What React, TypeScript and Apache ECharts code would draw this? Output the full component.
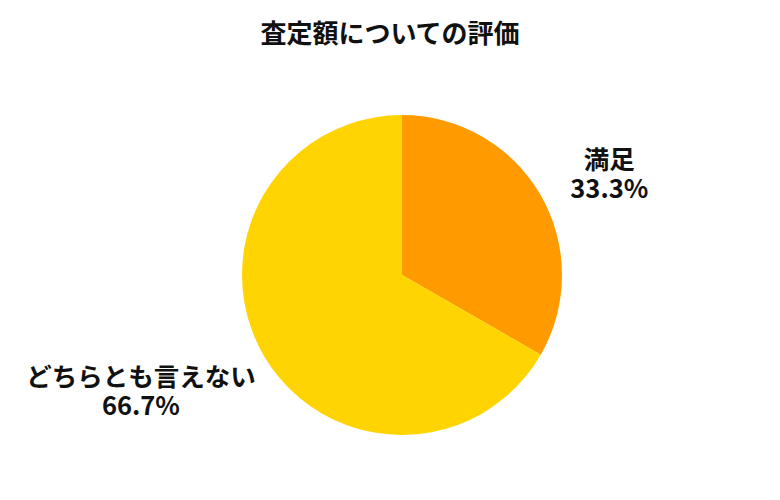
import React, { useEffect, useRef } from 'react';
import * as echarts from 'echarts';

const categories = ['満足', 'どちらとも言えない'];
const values = [33.3, 66.7];
const colors = ['#ff9a00', '#ffd400'];

const FONT = '"Noto Sans CJK JP", "Noto Sans", sans-serif';

export default function App() {
  const chartRef = useRef<HTMLDivElement>(null);

  useEffect(() => {
    document.body.style.margin = '0';
    if (!chartRef.current) return;
    const chart = echarts.init(chartRef.current, null, { renderer: 'svg' });

    // outward label offsets per slice (not data)
    const lineLen = [46, 68];
    const lineLen2 = [-10, -51];

    chart.setOption({
      animation: false,
      title: {
        text: '査定額についての評価',
        left: 'center',
        top: 13,
        textStyle: { fontFamily: FONT, fontSize: 26, fontWeight: 'bold', color: '#111' },
      },
      series: [
        {
          type: 'pie',
          center: [402, 275],
          radius: 160,
          startAngle: 90,
          clockwise: true,
          avoidLabelOverlap: false,
          percentPrecision: 1,
          label: {
            show: true,
            position: 'outside',
            formatter: '{b}\n{d}%',
            fontFamily: FONT,
            fontSize: 25.5,
            fontWeight: 'bold',
            color: '#111',
            lineHeight: 29,
            distanceToLabelLine: 0,
          },
          labelLine: { show: false },
          labelLayout: (p: any) => ({
            x: p.labelRect.x + p.labelRect.width / 2,
            align: 'center',
          }),
          data: categories.map((name, i) => ({
            name,
            value: values[i],
            itemStyle: { color: colors[i] },
            labelLine: { show: false, length: lineLen[i], length2: lineLen2[i] },
          })),
        },
      ],
    });

    return () => chart.dispose();
  }, []);

  return <div ref={chartRef} style={{ width: '780px', height: '500px' }} />;
}
